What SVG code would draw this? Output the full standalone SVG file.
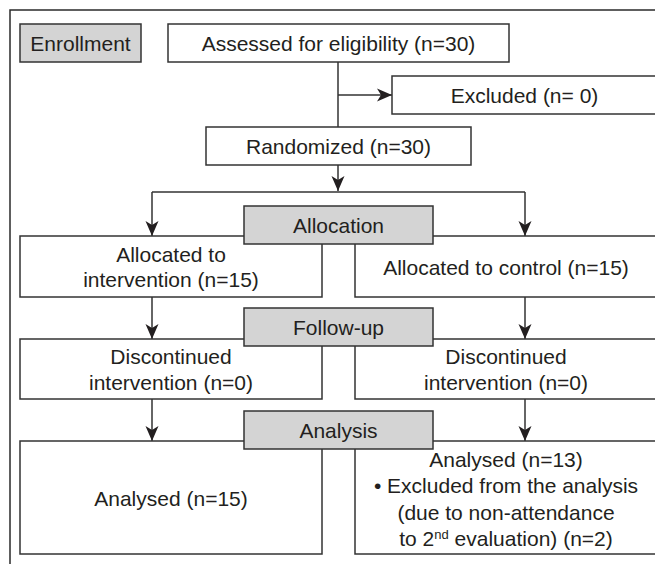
<svg xmlns="http://www.w3.org/2000/svg" width="655" height="564" viewBox="0 0 655 564">
<style>
  .box{fill:#ffffff;stroke:#333333;stroke-width:1.5}
  .phase{fill:#d4d4d4;stroke:#333333;stroke-width:1.5}
  .frame{fill:none;stroke:#2a2a2a;stroke-width:1.5}
  .t{font-family:"Liberation Sans",Arial,Helvetica,sans-serif;font-size:21px;fill:#231f20;text-anchor:middle}
  .conn{fill:none;stroke:#333333;stroke-width:1.5}
</style>
<defs>
  <marker id="arr" markerUnits="userSpaceOnUse" markerWidth="16" markerHeight="16" viewBox="0 -8 16 16" refX="15" refY="0" orient="auto">
    <path d="M0,-6.5 L15,0 L0,6.5 L4,0 z" fill="#231f20"/>
  </marker>
</defs>
<path class="frame" d="M10,575 L10,10 L665,10"/>

<g id="connectors">
  <path class="conn" d="M338,62 L338,127"/>
  <path class="conn" d="M338,95 L392,95" marker-end="url(#arr)"/>
  <path class="conn" d="M338,165 L338,191" marker-end="url(#arr)"/>
  <path class="conn" d="M152,192 L525,192"/>
  <path class="conn" d="M152,192 L152,236" marker-end="url(#arr)"/>
  <path class="conn" d="M525,192 L525,236" marker-end="url(#arr)"/>
  <path class="conn" d="M152,297 L152,339" marker-end="url(#arr)"/>
  <path class="conn" d="M525,297 L525,339" marker-end="url(#arr)"/>
  <path class="conn" d="M152,399 L152,441" marker-end="url(#arr)"/>
  <path class="conn" d="M525,399 L525,441" marker-end="url(#arr)"/>
</g>

<g id="enrollment">
  <rect class="phase" x="20" y="24" width="121" height="38"/>
  <text class="t" x="80.5" y="50.5">Enrollment</text>
</g>
<g id="assessed">
  <rect class="box" x="168" y="24" width="341" height="38"/>
  <text class="t" x="338.5" y="50.5">Assessed for eligibility (n=30)</text>
</g>
<g id="excluded">
  <rect class="box" x="392" y="76" width="265" height="38"/>
  <text class="t" x="524.5" y="102.5">Excluded (n= 0)</text>
</g>
<g id="randomized">
  <rect class="box" x="206" y="127" width="265" height="38"/>
  <text class="t" x="338.5" y="153.5">Randomized (n=30)</text>
</g>

<g id="alloc-intervention">
  <rect class="box" x="20" y="236" width="302" height="61"/>
  <text class="t" x="171" y="262">Allocated to</text>
  <text class="t" x="171" y="287">intervention (n=15)</text>
</g>
<g id="alloc-control">
  <rect class="box" x="355" y="236" width="302" height="61"/>
  <text class="t" x="506" y="275">Allocated to control (n=15)</text>
</g>
<g id="allocation">
  <rect class="phase" x="244" y="206" width="189" height="38"/>
  <text class="t" x="338.5" y="232.5">Allocation</text>
</g>

<g id="disc-intervention">
  <rect class="box" x="20" y="339" width="302" height="60"/>
  <text class="t" x="171" y="364">Discontinued</text>
  <text class="t" x="171" y="390">intervention (n=0)</text>
</g>
<g id="disc-control">
  <rect class="box" x="355" y="339" width="302" height="60"/>
  <text class="t" x="506" y="364">Discontinued</text>
  <text class="t" x="506" y="390">intervention (n=0)</text>
</g>
<g id="followup">
  <rect class="phase" x="244" y="308" width="189" height="38"/>
  <text class="t" x="338.5" y="334.5">Follow-up</text>
</g>

<g id="analysed-intervention">
  <rect class="box" x="20" y="441" width="302" height="113"/>
  <text class="t" x="171" y="506">Analysed (n=15)</text>
</g>
<g id="analysed-control">
  <rect class="box" x="355" y="441" width="302" height="113"/>
  <text class="t" x="506" y="466.5">Analysed (n=13)</text>
  <text class="t" x="506" y="493">• Excluded from the analysis</text>
  <text class="t" x="506" y="519.5">(due to non-attendance</text>
  <text class="t" x="506" y="546">to 2<tspan font-size="13" dy="-7">nd</tspan><tspan dy="7"> evaluation) (n=2)</tspan></text>
</g>
<g id="analysis">
  <rect class="phase" x="244" y="411" width="189" height="38"/>
  <text class="t" x="338.5" y="437.5">Analysis</text>
</g>
</svg>
